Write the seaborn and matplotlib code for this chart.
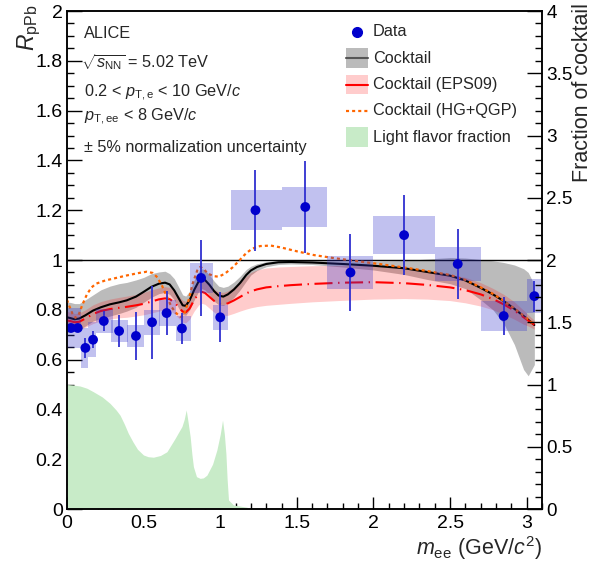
import numpy as np
import seaborn as sns
import matplotlib.pyplot as plt
from matplotlib.lines import Line2D
from matplotlib.patches import Rectangle
from matplotlib.ticker import MultipleLocator, FormatStrFormatter

# --- data ---
# measured R_pPb
data_x = [0.026, 0.07, 0.12, 0.17, 0.24, 0.34, 0.45, 0.555, 0.65, 0.75, 0.875, 1.0,
          1.23, 1.555, 1.85, 2.2, 2.55, 2.85, 3.05]
data_y = [0.727, 0.727, 0.647, 0.68, 0.755, 0.715, 0.695, 0.75, 0.787, 0.725, 0.928, 0.77,
          1.20, 1.213, 0.95, 1.10, 0.984, 0.775, 0.855]
data_stat = [0.0, 0.0, 0.04, 0.035, 0.04, 0.066, 0.095, 0.147, 0.087, 0.064, 0.152, 0.10,
             0.162, 0.186, 0.156, 0.162, 0.14, 0.075, 0.062]
data_sys = [0.08, 0.08, 0.08, 0.07, 0.05, 0.046, 0.046, 0.05, 0.054, 0.05, 0.062, 0.05,
            0.08, 0.08, 0.066, 0.077, 0.068, 0.06, 0.068]
box_lo = [0.0, 0.05, 0.09, 0.14, 0.19, 0.29, 0.39, 0.50, 0.60, 0.71, 0.80, 0.95,
          1.07, 1.40, 1.70, 2.00, 2.40, 2.70, 3.00]
box_hi = [0.05, 0.09, 0.14, 0.19, 0.30, 0.40, 0.50, 0.61, 0.71, 0.81, 0.95, 1.05,
          1.40, 1.70, 2.00, 2.40, 2.70, 3.00, 3.10]

# cocktail (vacuum), its band, and the EPS09 variant on the same mass points
ck_x = [0.0, 0.02, 0.05, 0.08, 0.12, 0.17, 0.22, 0.28, 0.34, 0.39, 0.45, 0.50, 0.55, 0.60,
        0.64, 0.67, 0.70, 0.73, 0.755, 0.775, 0.80, 0.83, 0.86, 0.88, 0.90, 0.93, 0.96,
        0.99, 1.02, 1.05, 1.09, 1.13, 1.17, 1.20, 1.24, 1.30, 1.38, 1.46, 1.6, 1.8, 2.0,
        2.2, 2.35, 2.5, 2.6, 2.7, 2.78, 2.85, 2.92, 2.98, 3.01, 3.05]
ck_y = [0.77, 0.767, 0.762, 0.765, 0.778, 0.797, 0.81, 0.822, 0.83, 0.838, 0.853, 0.872,
        0.892, 0.905, 0.909, 0.902, 0.878, 0.845, 0.818, 0.816, 0.838, 0.88, 0.915, 0.925,
        0.92, 0.90, 0.875, 0.857, 0.853, 0.862, 0.882, 0.908, 0.94, 0.958, 0.972, 0.984,
        0.991, 0.992, 0.99, 0.984, 0.977, 0.967, 0.952, 0.937, 0.918, 0.888, 0.862, 0.835,
        0.804, 0.775, 0.76, 0.739]
ck_lo = [0.71, 0.71, 0.715, 0.72, 0.735, 0.755, 0.765, 0.775, 0.785, 0.795, 0.81, 0.83,
         0.85, 0.865, 0.87, 0.862, 0.84, 0.805, 0.78, 0.778, 0.80, 0.84, 0.875, 0.885,
         0.88, 0.86, 0.835, 0.82, 0.818, 0.828, 0.85, 0.88, 0.915, 0.94, 0.958, 0.973,
         0.982, 0.984, 0.982, 0.972, 0.96, 0.942, 0.922, 0.905, 0.885, 0.84, 0.80, 0.745,
         0.66, 0.56, 0.535, 0.58]
ck_hi = [0.83, 0.83, 0.825, 0.825, 0.84, 0.86, 0.88, 0.895, 0.905, 0.91, 0.92, 0.93,
         0.945, 0.952, 0.955, 0.945, 0.925, 0.89, 0.86, 0.855, 0.875, 0.92, 0.955, 0.965,
         0.96, 0.94, 0.915, 0.895, 0.89, 0.895, 0.912, 0.935, 0.962, 0.975, 0.985, 0.993,
         0.998, 0.999, 0.998, 0.996, 0.995, 0.998, 1.004, 1.01, 1.008, 1.002, 0.997, 0.99,
         0.98, 0.965, 0.95, 0.90]
eps_y = [0.757, 0.755, 0.75, 0.752, 0.765, 0.783, 0.795, 0.803, 0.808, 0.812, 0.818, 0.824,
         0.833, 0.842, 0.846, 0.843, 0.83, 0.81, 0.793, 0.79, 0.805, 0.84, 0.866, 0.872,
         0.868, 0.852, 0.836, 0.825, 0.822, 0.826, 0.838, 0.852, 0.866, 0.874, 0.882, 0.89,
         0.895, 0.899, 0.904, 0.909, 0.911, 0.907, 0.90, 0.89, 0.879, 0.862, 0.843, 0.822,
         0.797, 0.77, 0.757, 0.74]
eps_lo = [0.72, 0.72, 0.718, 0.72, 0.73, 0.745, 0.755, 0.763, 0.768, 0.77, 0.775, 0.78,
          0.787, 0.795, 0.80, 0.797, 0.785, 0.765, 0.75, 0.748, 0.762, 0.795, 0.82, 0.826,
          0.822, 0.806, 0.79, 0.779, 0.776, 0.778, 0.786, 0.795, 0.803, 0.808, 0.813, 0.818,
          0.822, 0.826, 0.832, 0.838, 0.843, 0.845, 0.843, 0.837, 0.828, 0.815, 0.80, 0.782,
          0.762, 0.742, 0.735, 0.722]
eps_hi = [0.795, 0.79, 0.785, 0.787, 0.80, 0.82, 0.833, 0.843, 0.85, 0.855, 0.862, 0.87,
          0.88, 0.888, 0.893, 0.89, 0.876, 0.856, 0.838, 0.834, 0.85, 0.886, 0.912, 0.918,
          0.914, 0.898, 0.882, 0.872, 0.87, 0.876, 0.892, 0.912, 0.935, 0.95, 0.96, 0.968,
          0.972, 0.974, 0.977, 0.979, 0.978, 0.97, 0.958, 0.943, 0.93, 0.909, 0.886, 0.862,
          0.832, 0.798, 0.78, 0.758]

# cocktail with HG+QGP thermal contribution
hg_x = [0.0, 0.015, 0.035, 0.055, 0.075, 0.10, 0.13, 0.16, 0.19, 0.25, 0.30, 0.39, 0.47,
        0.52, 0.56, 0.59, 0.62, 0.65, 0.68, 0.71, 0.74, 0.76, 0.79, 0.82, 0.85, 0.87, 0.89,
        0.92, 0.96, 0.99, 1.03, 1.08, 1.12, 1.17, 1.21, 1.26, 1.33, 1.40, 1.5, 1.61, 1.75,
        1.9, 2.05, 2.2, 2.35, 2.5, 2.6, 2.7, 2.78, 2.85, 2.92, 2.98, 3.05]
hg_y = [0.84, 0.815, 0.785, 0.768, 0.778, 0.82, 0.862, 0.89, 0.905, 0.918, 0.925, 0.938,
        0.948, 0.953, 0.948, 0.93, 0.897, 0.855, 0.814, 0.788, 0.772, 0.775, 0.83, 0.905,
        0.958, 0.972, 0.965, 0.945, 0.935, 0.933, 0.945, 0.97, 0.995, 1.028, 1.046, 1.056,
        1.058, 1.05, 1.035, 1.02, 1.007, 0.995, 0.983, 0.97, 0.956, 0.94, 0.92, 0.89, 0.864,
        0.836, 0.805, 0.776, 0.74]

# light flavour fraction of the cocktail
lf_x = [0.0, 0.04, 0.085, 0.13, 0.172, 0.23, 0.281, 0.32, 0.346, 0.375, 0.40, 0.43, 0.46,
        0.499, 0.53, 0.564, 0.61, 0.652, 0.68, 0.706, 0.73, 0.75, 0.765, 0.778, 0.79, 0.804,
        0.815, 0.825, 0.845, 0.869, 0.89, 0.913, 0.95, 0.978, 1.0, 1.015, 1.027, 1.037,
        1.045, 1.054, 1.087, 1.175, 1.18]
lf_y = [0.50, 0.498, 0.494, 0.485, 0.471, 0.45, 0.424, 0.398, 0.377, 0.34, 0.304, 0.27,
        0.24, 0.217, 0.21, 0.208, 0.215, 0.23, 0.258, 0.284, 0.31, 0.331, 0.36, 0.398, 0.35,
        0.29, 0.22, 0.17, 0.13, 0.123, 0.125, 0.136, 0.18, 0.237, 0.30, 0.357, 0.30, 0.223,
        0.12, 0.036, 0.016, 0.007, 0.0]

legend_labels = ['Data', 'Cocktail', 'Cocktail (EPS09)', 'Cocktail (HG+QGP)',
                 'Light flavor fraction']

GRAY = '#bbbbbb'
PINK = (1, 0, 0, 0.2)
GREEN = '#c8ebc8'
ORANGE = '#ff6600'
BLUE = '#0000cc'
RED_LS = (0, (13, 4, 1, 4))
ORANGE_LS = (0, (2.2, 2.2))

sns.set_theme(style='ticks')
plt.rcParams['font.family'] = ['Liberation Sans', 'DejaVu Sans']
plt.rcParams['mathtext.fontset'] = 'custom'
plt.rcParams['mathtext.rm'] = 'Liberation Sans'
plt.rcParams['mathtext.it'] = 'Liberation Sans:italic'
plt.rcParams['mathtext.bf'] = 'Liberation Sans:bold'
plt.rcParams['lines.scale_dashes'] = False

fig = plt.figure(figsize=(5.93, 5.65), dpi=100)
ax = fig.add_axes([0.1130, 0.0991, 0.8010, 0.8814])

ax.fill_between(lf_x, 0, lf_y, color=GREEN, lw=0, zorder=1)
ax.fill_between(ck_x, ck_lo, ck_hi, color=GRAY, lw=0, zorder=2)
ax.fill_between(ck_x, eps_lo, eps_hi, color=PINK, lw=0, zorder=3)
ax.axhline(1, color='black', lw=1.0, zorder=4)
sns.lineplot(x=ck_x, y=ck_y, ax=ax, color='black', lw=1.5, sort=False, zorder=5)
sns.lineplot(x=ck_x, y=eps_y, ax=ax, color='red', lw=1.5, sort=False, zorder=5,
             linestyle=RED_LS)
sns.lineplot(x=hg_x, y=hg_y, ax=ax, color=ORANGE, lw=1.6, sort=False, zorder=6,
             linestyle=ORANGE_LS)

# systematic boxes
box_w = [h - l for l, h in zip(box_lo, box_hi)]
box_b = [y - s for y, s in zip(data_y, data_sys)]
box_h = [2 * s for s in data_sys]
ax.bar(box_lo, box_h, width=box_w, bottom=box_b, align='edge',
       color=(0.2, 0.2, 0.8, 0.3), lw=0, zorder=7)
ax.errorbar(data_x, data_y, yerr=data_stat, fmt='none', ecolor='#3030d0',
            elinewidth=1.3, zorder=8)
sns.scatterplot(x=data_x, y=data_y, ax=ax, color=BLUE, s=50, edgecolor='none',
                zorder=9)

ax.set_xlim(0, 3.1)
ax.set_ylim(0, 2)
ax.xaxis.set_major_locator(MultipleLocator(0.5))
ax.xaxis.set_minor_locator(MultipleLocator(0.1))
ax.yaxis.set_major_locator(MultipleLocator(0.2))
ax.yaxis.set_minor_locator(MultipleLocator(0.05))
ax.xaxis.set_major_formatter(FormatStrFormatter('%g'))
ax.yaxis.set_major_formatter(FormatStrFormatter('%g'))
ax.tick_params(axis='both', which='both', direction='in', labelsize=14, colors='black',
               top=False, right=False, width=1.0)
ax.tick_params(axis='y', which='major', length=10.8, pad=3)
ax.tick_params(axis='y', which='minor', length=5)
ax.tick_params(axis='x', which='major', length=9, pad=4)
ax.tick_params(axis='x', which='minor', length=4.3)
for sp in ax.spines.values():
    sp.set_linewidth(1.1)
    sp.set_color('black')

ax2 = ax.twinx()
ax2.set_ylim(0, 4)
ax2.yaxis.set_major_locator(MultipleLocator(0.5))
ax2.yaxis.set_minor_locator(MultipleLocator(0.1))
ax2.yaxis.set_major_formatter(FormatStrFormatter('%g'))
ax2.tick_params(axis='y', which='both', direction='in', labelsize=13.6, width=1.0,
                colors='black', pad=3)
ax2.tick_params(axis='y', which='major', length=10.8)
ax2.tick_params(axis='y', which='minor', length=5)
for sp in ax2.spines.values():
    sp.set_linewidth(1.1)
    sp.set_color('black')

ax.set_ylabel(r'$R_{\rm pPb}$', fontsize=16.5, loc='top')
ax.yaxis.set_label_coords(-0.0505, 1.012)
ax.set_xlabel(r'$m_{\rm ee}$ (GeV/$c^{2}$)', fontsize=15.5, loc='right')
ax.xaxis.set_label_coords(1.0, -0.05)
ax2.set_ylabel('Fraction of cocktail', fontsize=15.5, loc='top')
ax2.yaxis.set_label_coords(1.063, 1.016)

txt = dict(transform=ax.transAxes, fontsize=11.7, va='baseline', ha='left')
ax.text(0.036, 0.945, 'ALICE', **txt)
ax.text(0.030, 0.886, r'$\sqrt{s_{\rm NN}}$ = 5.02 TeV', **txt)
ax.text(0.036, 0.828, r'0.2 < $p_{\rm T,e}$ < 10 GeV/$c$', **txt)
ax.text(0.036, 0.779, r'$p_{\rm T,ee}$ < 8 GeV/$c$', **txt)
ax.text(0.036, 0.717, '± 5% normalization uncertainty', **txt)

# legend, laid out row by row in axes fractions
leg_x0, leg_x1, leg_tx = 0.587, 0.634, 0.644
leg_y0, leg_dy, leg_h = 0.958, 0.0528, 0.040
tr = ax.transAxes
for i, lab in enumerate(legend_labels):
    yc = leg_y0 - i * leg_dy
    if i == 0:
        ax.add_line(Line2D([(leg_x0 + leg_x1) / 2], [yc], transform=tr, ls='none',
                           marker='o', color=BLUE, markersize=7, clip_on=False))
    elif i in (1, 2, 4):
        fc = {1: GRAY, 2: PINK, 4: GREEN}[i]
        ax.add_patch(Rectangle((leg_x0, yc - leg_h / 2), leg_x1 - leg_x0, leg_h,
                               transform=tr, color=fc, lw=0, clip_on=False))
        if i == 1:
            ax.add_line(Line2D([leg_x0, leg_x1], [yc, yc], transform=tr,
                               color='#555555', lw=1.5, clip_on=False))
        if i == 2:
            ax.add_line(Line2D([leg_x0, leg_x1], [yc, yc], transform=tr,
                               color='red', lw=1.5, clip_on=False))
    else:
        ax.add_line(Line2D([leg_x0, leg_x1], [yc, yc], transform=tr, color=ORANGE,
                           lw=1.6, ls=ORANGE_LS, clip_on=False))
    ax.text(leg_tx, yc, lab, transform=tr, fontsize=11.7, va='center', ha='left')

fig.savefig('out.png', dpi=100)
